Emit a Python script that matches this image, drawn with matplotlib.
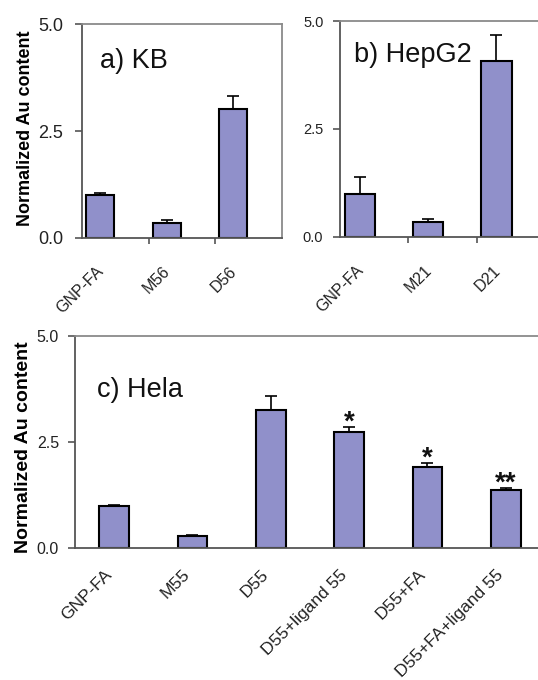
import matplotlib.pyplot as plt
import matplotlib.transforms as mtransforms
import numpy as np

plt.rcParams['font.family'] = ['Liberation Sans', 'DejaVu Sans']

kb_labels = ["GNP-FA", "M56", "D56"]
kb_vals = [1.0, 0.35, 3.01]
kb_err = [0.05, 0.07, 0.31]

hep_labels = ["GNP-FA", "M21", "D21"]
hep_vals = [1.0, 0.35, 4.07]
hep_err = [0.39, 0.07, 0.60]

hela_labels = ["GNP-FA", "M55", "D55", "D55+ligand 55", "D55+FA", "D55+FA+ligand 55"]
hela_vals = [0.99, 0.28, 3.25, 2.74, 1.92, 1.36]
hela_err = [0.03, 0.03, 0.33, 0.11, 0.08, 0.06]
hela_marks = ["", "", "", "*", "*", "**"]

BAR = "#9090CA"
FRAME = "#8a8a8a"


def draw_panel(fig, ax, labels, vals, err, title, shift, width, ytick_size,
               ytick_pad, title_xy, label_off, label_size, tick_marks=True):
    n = len(labels)
    x = np.arange(n) + shift
    ax.bar(x, vals, width=width, color=BAR, edgecolor="black", linewidth=1.5,
           zorder=2)
    ax.errorbar(x, vals, yerr=[np.zeros(n), err], fmt="none", ecolor="black",
                elinewidth=1.2, capsize=4, capthick=1.2, zorder=1)
    ax.set_ylim(0, 5)
    ax.set_xlim(-0.5, n - 0.5)
    ax.set_yticks([0, 2.5, 5.0])
    ax.set_yticklabels(["0.0", "2.5", "5.0"], fontsize=ytick_size, color="#222222")
    ax.tick_params(axis="y", length=5, width=1.2, color="#555555", pad=ytick_pad)
    if tick_marks:
        ax.set_xticks(np.arange(n - 1) + 0.5)
        ax.set_xticklabels([])
        ax.tick_params(axis="x", length=4, width=1.2, color="#555555")
    else:
        ax.set_xticks([])
    # rotated category labels hanging under each bar
    trans = mtransforms.offset_copy(ax.get_xaxis_transform(), fig=fig,
                                    x=label_off[0], y=label_off[1], units="dots")
    for xi, lab in zip(x, labels):
        ax.text(xi, 0, lab, rotation=45, ha="right", va="top", transform=trans,
                rotation_mode="anchor", fontsize=label_size, color="#222222")
    for side in ["top", "right"]:
        ax.spines[side].set_color(FRAME)
        ax.spines[side].set_linewidth(1.3)
    for side in ["left", "bottom"]:
        ax.spines[side].set_color("#555555")
        ax.spines[side].set_linewidth(1.3)
    ax.text(title_xy[0], title_xy[1], title, transform=ax.transAxes,
            fontsize=19.5, color="#111111", va="baseline", ha="left")
    return x


fig = plt.figure(figsize=(5.38, 6.8), dpi=100)

ax_a = fig.add_axes([0.1524, 0.65, 0.3717, 0.3147])
draw_panel(fig, ax_a, kb_labels, kb_vals, kb_err, "a) KB", -0.23, 0.42,
           13, 8.5, (0.09, 0.794), (-4, -26), 11.5)
ax_a.set_ylabel("Normalized Au content", fontsize=13, fontweight="bold")
ax_a.yaxis.set_label_coords(-0.24, 0.514)

ax_b = fig.add_axes([0.632, 0.6515, 0.381, 0.3176])
draw_panel(fig, ax_b, hep_labels, hep_vals, hep_err, "b) HepG2", -0.21, 0.44,
           10.5, 7, (0.068, 0.81), (-4, -26), 11.5)

ax_c = fig.add_axes([0.1394, 0.1941, 0.8736, 0.3118])
xc = draw_panel(fig, ax_c, hela_labels, hela_vals, hela_err, "c) Hela", 0.0, 0.38,
                11.5, 6.5, (0.047, 0.712), (-10, -19), 12.5, tick_marks=False)
ax_c.set_ylabel("Normalized Au content", fontsize=14, fontweight="bold")
ax_c.yaxis.set_label_coords(-0.092, 0.476)
for xi, v, e, m in zip(xc, hela_vals, hela_err, hela_marks):
    if m:
        ax_c.text(xi, v + e - 0.06, m, ha="center", va="baseline", fontsize=20,
                  fontweight="bold", color="#111111")

fig.savefig("out.png", dpi=100, facecolor="white")
